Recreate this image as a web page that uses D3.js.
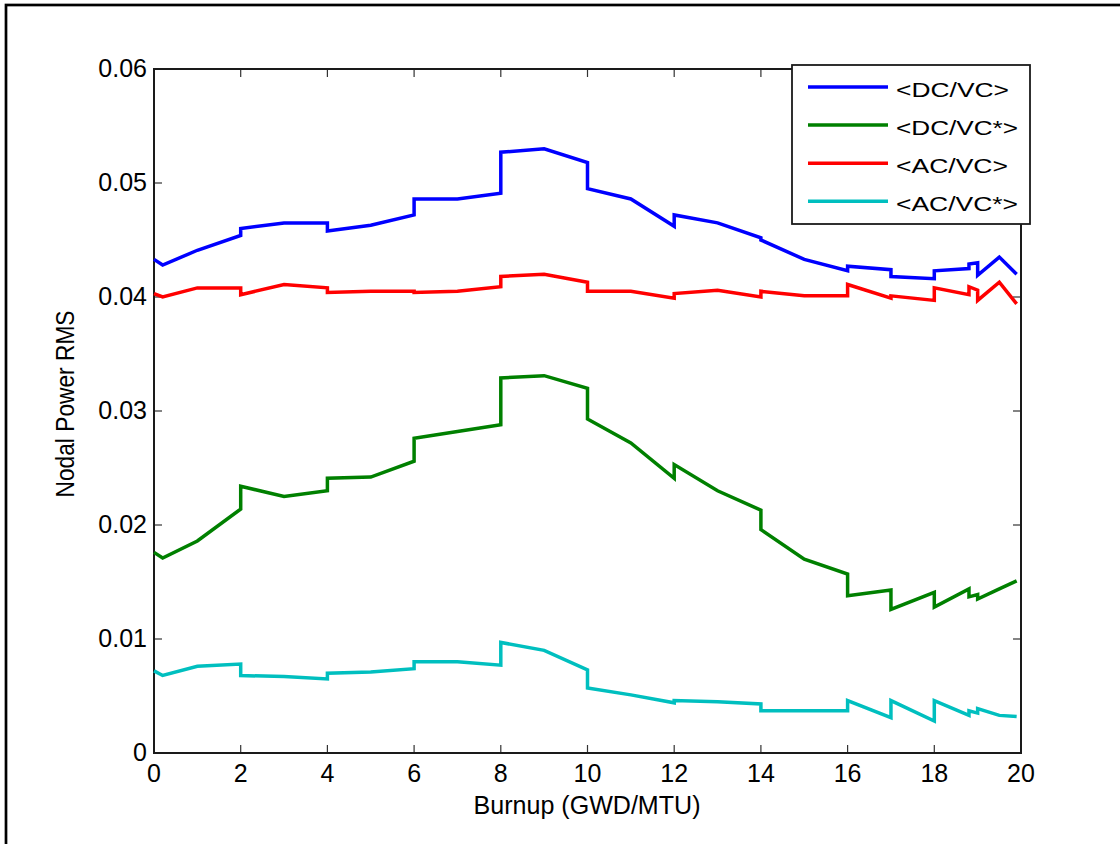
<!DOCTYPE html>
<html>
<head>
<meta charset="utf-8">
<script src="https://cdn.jsdelivr.net/npm/d3@7"></script>
<style>
  body { margin: 0; background: #fff; }
  text { font-family: "Liberation Sans", Arial, sans-serif; fill: #000; }
</style>
</head>
<body>
<div id="chart"></div>
<script>
// burnup steps (repeated x = restart jump)
const burnup = [0, 0.2, 1, 2, 2, 3, 4, 4, 5, 6, 6, 7, 8, 8, 9, 10, 10, 11, 12, 12, 13, 14, 14, 15, 16, 16, 17, 17, 18, 18, 18.8, 18.8, 19, 19, 19.5, 19.9];

const dcvc = [0.0433, 0.0428, 0.0441, 0.0454, 0.0460, 0.0465, 0.0465, 0.0458, 0.0463, 0.0472, 0.0486, 0.0486, 0.0491, 0.0527, 0.0530, 0.0518, 0.0495, 0.0486, 0.0462, 0.0472, 0.0465, 0.0452, 0.0450, 0.0433, 0.0423, 0.0427, 0.0424, 0.0418, 0.0416, 0.0423, 0.0425, 0.0429, 0.0430, 0.0419, 0.0435, 0.0420];
const dcvcStar = [0.0176, 0.0171, 0.0186, 0.0214, 0.0234, 0.0225, 0.0230, 0.0241, 0.0242, 0.0256, 0.0276, 0.0282, 0.0288, 0.0329, 0.0331, 0.0320, 0.0293, 0.0272, 0.0241, 0.0253, 0.0230, 0.0213, 0.0196, 0.0170, 0.0157, 0.0138, 0.0143, 0.0126, 0.0141, 0.0128, 0.0144, 0.0137, 0.0139, 0.0135, 0.0144, 0.0151];
const acvc = [0.0403, 0.0400, 0.0408, 0.0408, 0.0402, 0.0411, 0.0408, 0.0404, 0.0405, 0.0405, 0.0404, 0.0405, 0.0409, 0.0418, 0.0420, 0.0413, 0.0405, 0.0405, 0.0399, 0.0403, 0.0406, 0.0400, 0.0405, 0.0401, 0.0401, 0.0411, 0.0399, 0.0401, 0.0397, 0.0408, 0.0402, 0.0409, 0.0406, 0.0397, 0.0413, 0.0394];
const acvcStar = [0.0072, 0.0068, 0.0076, 0.0078, 0.0068, 0.0067, 0.0065, 0.0070, 0.0071, 0.0074, 0.0080, 0.0080, 0.0077, 0.0097, 0.0090, 0.0073, 0.0057, 0.0051, 0.0044, 0.0046, 0.0045, 0.0043, 0.0037, 0.0037, 0.0037, 0.0046, 0.0031, 0.0046, 0.0028, 0.0046, 0.0033, 0.0037, 0.0035, 0.0039, 0.0033, 0.0032];

const seriesNames = ["<DC/VC>", "<DC/VC*>", "<AC/VC>", "<AC/VC*>"];
const seriesColors = ["#0000ff", "#008000", "#ff0000", "#00bfbf"];
const xTicks = [0, 2, 4, 6, 8, 10, 12, 14, 16, 18, 20];
const yTicks = [0, 0.01, 0.02, 0.03, 0.04, 0.05, 0.06];

const W = 1120, H = 844;
const pLeft = 154, pRight = 1021, pTop = 69, pBottom = 753;

const svg = d3.select("#chart").append("svg")
  .attr("width", W)
  .attr("height", H);

// figure frame
svg.append("rect")
  .attr("x", 6).attr("y", 5)
  .attr("width", 1300).attr("height", 1000)
  .attr("fill", "none")
  .attr("stroke", "#000")
  .attr("stroke-width", 2.7);

const x = d3.scaleLinear().domain([0, 20]).range([pLeft, pRight]);
const y = d3.scaleLinear().domain([0, 0.06]).range([pBottom, pTop]);

// ticks (inward, all four sides)
const tickLen = 8;
const axisG = svg.append("g");
axisG.selectAll(".xtb").data(xTicks).enter().append("line")
  .attr("x1", d => x(d)).attr("x2", d => x(d))
  .attr("y1", pBottom).attr("y2", pBottom - tickLen)
  .attr("stroke", "#333").attr("stroke-width", 1.2);
axisG.selectAll(".xtt").data(xTicks).enter().append("line")
  .attr("x1", d => x(d)).attr("x2", d => x(d))
  .attr("y1", pTop).attr("y2", pTop + tickLen)
  .attr("stroke", "#333").attr("stroke-width", 1.2);
axisG.selectAll(".ytl").data(yTicks).enter().append("line")
  .attr("x1", pLeft).attr("x2", pLeft + tickLen)
  .attr("y1", d => y(d)).attr("y2", d => y(d))
  .attr("stroke", "#333").attr("stroke-width", 1.2);
axisG.selectAll(".ytr").data(yTicks).enter().append("line")
  .attr("x1", pRight).attr("x2", pRight - tickLen)
  .attr("y1", d => y(d)).attr("y2", d => y(d))
  .attr("stroke", "#333").attr("stroke-width", 1.2);

// box
svg.append("rect")
  .attr("x", pLeft).attr("y", pTop)
  .attr("width", pRight - pLeft).attr("height", pBottom - pTop)
  .attr("fill", "none")
  .attr("stroke", "#1a1a1a")
  .attr("stroke-width", 2);

// tick labels
svg.selectAll(".xl").data(xTicks).enter().append("text")
  .attr("x", d => x(d)).attr("y", pBottom + 29)
  .attr("text-anchor", "middle")
  .attr("font-size", 25)
  .text(d => d);
svg.selectAll(".yl").data(yTicks).enter().append("text")
  .attr("x", pLeft - 7).attr("y", d => y(d) + 8)
  .attr("text-anchor", "end")
  .attr("font-size", 25)
  .text(d => d === 0 ? "0" : d.toFixed(2));

// axis titles
svg.append("text")
  .attr("x", 587).attr("y", 814)
  .attr("text-anchor", "middle")
  .attr("font-size", 25)
  .attr("textLength", 227).attr("lengthAdjust", "spacingAndGlyphs")
  .text("Burnup (GWD/MTU)");
svg.append("text")
  .attr("transform", "translate(74,404) rotate(-90)")
  .attr("text-anchor", "middle")
  .attr("font-size", 25)
  .attr("textLength", 187).attr("lengthAdjust", "spacingAndGlyphs")
  .text("Nodal Power RMS");

// lines
const allSeries = [dcvc, dcvcStar, acvc, acvcStar];
const line = d3.line()
  .x((d, i) => x(burnup[i]))
  .y(d => y(d));

svg.selectAll(".series").data(allSeries).enter().append("path")
  .attr("d", d => line(d))
  .attr("fill", "none")
  .attr("stroke", (d, i) => seriesColors[i])
  .attr("stroke-width", 3.5)
  .attr("stroke-linejoin", "miter");

// legend
const leg = svg.append("g");
leg.append("rect")
  .attr("x", 792).attr("y", 65)
  .attr("width", 238).attr("height", 159)
  .attr("fill", "#fff")
  .attr("stroke", "#1a1a1a")
  .attr("stroke-width", 1.8);
const legLens = [113, 122, 112, 122];
seriesNames.forEach((name, i) => {
  const ly = 87 + i * 38.1;
  leg.append("line")
    .attr("x1", 808).attr("x2", 888)
    .attr("y1", ly).attr("y2", ly)
    .attr("stroke", seriesColors[i])
    .attr("stroke-width", 3.5);
  leg.append("text")
    .attr("x", 896).attr("y", ly + 10)
    .attr("font-size", 20)
    .attr("textLength", legLens[i]).attr("lengthAdjust", "spacingAndGlyphs")
    .text(name);
});
</script>
</body>
</html>
